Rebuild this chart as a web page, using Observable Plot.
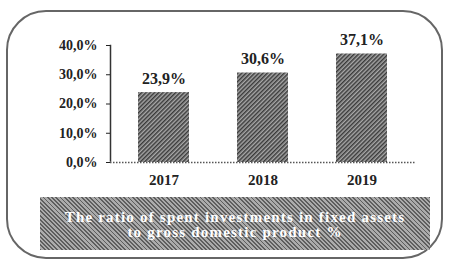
<!DOCTYPE html>
<html><head><meta charset="utf-8">
<script src="https://cdn.jsdelivr.net/npm/d3@7"></script>
<script src="https://cdn.jsdelivr.net/npm/@observablehq/plot@0.6"></script>
<style>
body{margin:0;background:#fff;width:449px;height:269px;overflow:hidden;position:relative;font-family:"Liberation Serif",serif;}
#box{position:absolute;left:6px;top:10px;width:433px;height:245px;border:2px solid #666;border-radius:40px;}
#chart{position:absolute;left:0;top:0;}
#cap{position:absolute;left:40px;top:197px;width:390px;height:53px;
 background:repeating-linear-gradient(45deg,#5e5e5e 0 1.3px,#ababab 1.3px 3px);
 color:#fff;font-weight:bold;font-size:15px;line-height:15px;text-align:center;
 display:flex;flex-direction:column;justify-content:center;letter-spacing:1.2px;padding-top:3px;box-sizing:border-box;}
</style></head><body>
<div id="box"></div>
<div id="chart"></div>
<div id="cap"></div>
<script>
const years = ["2017", "2018", "2019"];
const ratios = [23.9, 30.6, 37.1];
const yTicks = [0, 10, 20, 30, 40];
const captionLines = ["The ratio of spent investments in fixed assets", "to gross domestic product %"];

const data = years.map((y, i) => ({year: y, value: ratios[i]}));
const fmt = d => d.toFixed(1).replace(".", ",") + "%";

const plot = Plot.plot({
  width: 449, height: 200,
  marginLeft: 110, marginRight: 33, marginTop: 45, marginBottom: 38,
  style: {fontFamily: "Liberation Serif, serif", background: "transparent", color: "#222"},
  x: {domain: years, paddingInner: 0.48, paddingOuter: 0.28, label: null},
  y: {domain: [0, 40], label: null},
  marks: [
    Plot.barY(data, {x: "year", y: "value", fill: "url(#hatch)"}),
    Plot.frame({anchor: "left", stroke: "#333", strokeDasharray: "1.5,1.5", strokeWidth: 1.5}),
    Plot.ruleY([0], {stroke: "#555", strokeDasharray: "1.5,1.5", strokeWidth: 1.3}),
    Plot.axisY({ticks: yTicks, tickFormat: fmt, tickSize: 4, tickPadding: 9, fontSize: 14, fontWeight: "bold", label: null, style: {letterSpacing: "1.6px"}}),
    Plot.axisX({tickSize: 0, tickPadding: 12, fontSize: 15, fontWeight: "bold", label: null, style: {letterSpacing: "1.6px"}}),
    Plot.text(data, {x: "year", y: "value", text: d => fmt(d.value), dy: -14, fontSize: 16, fontWeight: "bold", fill: "#222", style: {letterSpacing: "1.2px"}})
  ]
});

const ns = "http://www.w3.org/2000/svg";
const defs = document.createElementNS(ns, "defs");
defs.innerHTML = '<pattern id="hatch" patternUnits="userSpaceOnUse" width="3" height="3" patternTransform="rotate(45)"><rect width="3" height="3" fill="#a8a8a8"/><rect width="1.5" height="3" fill="#3a3a3a"/></pattern>';
plot.insertBefore(defs, plot.firstChild);
document.getElementById("chart").appendChild(plot);

const cap = document.getElementById("cap");
captionLines.forEach(t => { const d = document.createElement("div"); d.textContent = t; cap.appendChild(d); });
</script>
</body></html>
